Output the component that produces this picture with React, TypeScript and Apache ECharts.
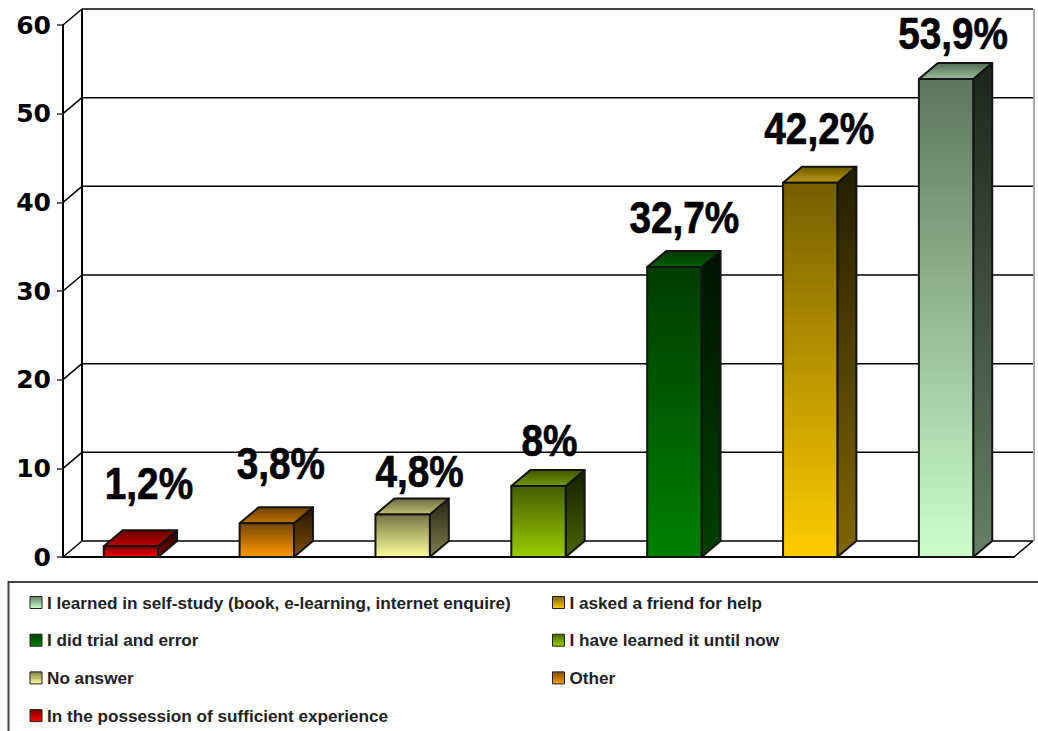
import React, { useEffect, useRef } from "react";
import * as echarts from "echarts";

// Survey answers, smallest share first (order of the bars).
const categories = [
  "In the possession of sufficient experience",
  "Other",
  "No answer",
  "I have learned it until now",
  "I did trial and error",
  "I asked a friend for help",
  "I learned in self-study (book, e-learning, internet enquire)",
];
const shares = [1.2, 3.8, 4.8, 8, 32.7, 42.2, 53.9];
const baseColors = ["#ff0000", "#ff9900", "#ffff99", "#99cc00", "#008000", "#ffcc00", "#ccffcc"];
const yTicks = [0, 10, 20, 30, 40, 50, 60];
const legendLeftColumn = [categories[6], categories[4], categories[2], categories[0]];
const legendRightColumn = [categories[5], categories[3], categories[1]];

// Offset of each value label's baseline from the front-top centre of its bar.
const labelShiftX = [18, 14, 17, 11, 10, 9, 7];
const labelShiftY = [46, 43, 26, 28, 32, 37, 28];
// Distance from the top of a text box to the baseline at the label font size.
const LABEL_ASCENT = 39;

const DEPTH_X = 19;
const DEPTH_Y = -16;
const BAR_RATIO = 0.4;
const EDGE = "#141414";

function shade(hex: string, k: number) {
  const n = parseInt(hex.slice(1), 16);
  const c = [(n >> 16) & 255, (n >> 8) & 255, n & 255].map((v) => Math.round(v * k));
  return `rgb(${c[0]},${c[1]},${c[2]})`;
}

function vertical(top: string, bottom: string) {
  return new echarts.graphic.LinearGradient(0, 0, 0, 1, [
    { offset: 0, color: top },
    { offset: 1, color: bottom },
  ]);
}

function formatShare(v: number) {
  return `${String(v).replace(".", ",")}%`;
}

// Back wall, floor and left wall: one diagonal and one back line for each tick.
function renderWall(params: any, api: any) {
  const cs = params.coordSys;
  const p = api.coord([0, api.value(0)]);
  const y = p[1];
  const left = cs.x;
  const right = cs.x + cs.width;
  const line = (x1: number, y1: number, x2: number, y2: number, stroke = "#000", lineWidth = 1.5) => ({
    type: "line",
    shape: { x1, y1, x2, y2 },
    style: { stroke, lineWidth },
  });
  const children: any[] = [
    line(left, y, left + DEPTH_X, y + DEPTH_Y),
    line(left + DEPTH_X, y + DEPTH_Y, right + DEPTH_X, y + DEPTH_Y),
  ];
  if (params.dataIndex === 0) {
    const topY = cs.y + DEPTH_Y;
    children.push(line(left + DEPTH_X, topY, left + DEPTH_X, y + DEPTH_Y, "#000", 2));
    children.push(line(right + DEPTH_X + 1, topY, right + DEPTH_X + 1, y + DEPTH_Y, "#aaaaaa", 2));
    children.push(line(right, y, right + DEPTH_X, y + DEPTH_Y));
  }
  return { type: "group", children };
}

function renderBar(params: any, api: any) {
  const index = api.value(0);
  const value = api.value(1);
  const top = api.coord([index, value]);
  const bottom = api.coord([index, 0]);
  const w = api.size([1, 0])[0] * BAR_RATIO;
  const x0 = top[0] - w / 2;
  const x1 = top[0] + w / 2;
  const base = baseColors[index];
  const edge = { stroke: EDGE, lineWidth: 2, lineJoin: "round" };
  return {
    type: "group",
    children: [
      {
        type: "polygon",
        shape: { points: [[x1, bottom[1]], [x1 + DEPTH_X, bottom[1] + DEPTH_Y], [x1 + DEPTH_X, top[1] + DEPTH_Y], [x1, top[1]]] },
        style: { fill: vertical(shade(base, 0.14), shade(base, 0.5)), ...edge },
      },
      {
        type: "polygon",
        shape: { points: [[x0, top[1]], [x1, top[1]], [x1 + DEPTH_X, top[1] + DEPTH_Y], [x0 + DEPTH_X, top[1] + DEPTH_Y]] },
        style: { fill: vertical(shade(base, 0.42), shade(base, 0.75)), ...edge },
      },
      {
        type: "polygon",
        shape: { points: [[x0, bottom[1]], [x1, bottom[1]], [x1, top[1]], [x0, top[1]]] },
        style: { fill: vertical(shade(base, 0.46), base), ...edge },
      },
      {
        type: "text",
        x: top[0] + labelShiftX[index],
        y: top[1] - labelShiftY[index] - LABEL_ASCENT,
        scaleX: 0.88,
        style: {
          text: formatShare(value),
          fontFamily: "Liberation Sans",
          fontWeight: "bold",
          fontSize: 44,
          fill: "#000",
          stroke: "#000",
          lineWidth: 0.7,
          align: "center",
          verticalAlign: "top",
        },
      },
    ],
  };
}

function legendEntries(names: string[]) {
  return names.map((name) => {
    const base = baseColors[categories.indexOf(name)];
    return {
      name,
      icon: "rect",
      itemStyle: { color: vertical(shade(base, 0.5), base), borderColor: "#222", borderWidth: 1 },
    };
  });
}

const legendShared = {
  orient: "vertical",
  padding: 0,
  itemWidth: 12,
  itemHeight: 12,
  itemGap: 20.7,
  selectedMode: false,
  textStyle: { fontFamily: "Liberation Sans", fontWeight: "bold", fontSize: 17.15, color: "#222" },
};

export default function App() {
  const ref = useRef<HTMLDivElement>(null);

  useEffect(() => {
    document.body.style.margin = "0";
    const chart = echarts.init(ref.current!, undefined, { renderer: "svg" });
    chart.setOption({
      animation: false,
      backgroundColor: "#fff",
      grid: { left: 63, top: 25, width: 951, height: 532, containLabel: false },
      xAxis: {
        type: "category",
        data: categories,
        boundaryGap: true,
        axisLine: { lineStyle: { color: "#000", width: 2 } },
        axisTick: { length: 7, lineStyle: { color: "#333", width: 1.5 } },
        axisLabel: { show: false },
      },
      yAxis: {
        type: "value",
        min: 0,
        max: 60,
        interval: 10,
        splitLine: { show: false },
        axisLine: { show: true, lineStyle: { color: "#000", width: 2 } },
        axisTick: { show: true, length: 6, lineStyle: { color: "#333", width: 1.5 } },
        axisLabel: {
          margin: 12,
          padding: [3, 0, 0, 0],
          fontFamily: "DejaVu Sans",
          fontWeight: "bold",
          fontSize: 25,
          color: "#000",
        },
      },
      legend: [
        { ...legendShared, left: 29.5, top: 594, data: legendEntries(legendLeftColumn) },
        { ...legendShared, left: 552, top: 594, data: legendEntries(legendRightColumn) },
      ],
      graphic: [
        {
          type: "rect",
          silent: true,
          shape: { x: 8.5, y: 582, width: 1060, height: 200 },
          style: { fill: "none", stroke: "#444", lineWidth: 2 },
        },
      ],
      series: [
        {
          type: "custom",
          name: "walls",
          z: 1,
          silent: true,
          renderItem: renderWall,
          data: yTicks.map((t) => [t]),
          encode: { y: 0 },
        },
        ...categories.map((name, i) => ({
          type: "custom",
          name,
          z: 2 + i,
          silent: true,
          renderItem: renderBar,
          data: [[i, shares[i]]],
          encode: { x: 0, y: 1 },
          itemStyle: { color: baseColors[i] },
        })),
      ],
    });
    return () => chart.dispose();
  }, []);

  return <div ref={ref} style={{ width: 1038, height: 731, overflow: "hidden" }} />;
}
